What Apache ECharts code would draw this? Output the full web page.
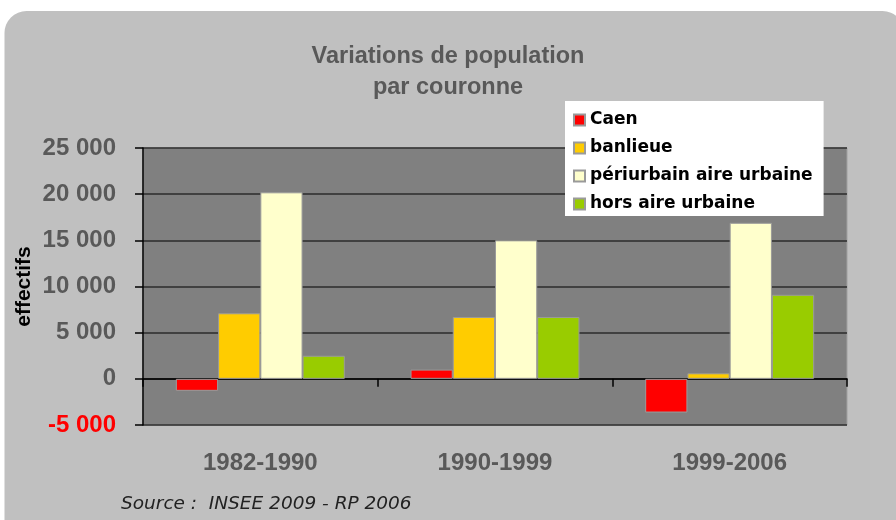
<!DOCTYPE html>
<html>
<head>
<meta charset="utf-8">
<script src="https://cdn.jsdelivr.net/npm/echarts@6/dist/echarts.min.js"></script>
<style>html,body{margin:0;padding:0;background:#fff;}#c{width:896px;height:520px;}</style>
</head>
<body>
<div id="c"></div>
<script>
const categories = ['1982-1990', '1990-1999', '1999-2006'];
const seriesNames = ['Caen', 'banlieue', 'périurbain aire urbaine', 'hors aire urbaine'];
const caen = [-1300, 1000, -3650];
const banlieue = [7100, 6700, 600];
const periurbain = [20200, 15000, 16900];
const horsAire = [2500, 6700, 9100];
const yMin = -5000, yMax = 25000, yInterval = 5000;
const colors = ['#ff0000', '#ffcc00', '#ffffcc', '#99cc00'];
const titleText = 'Variations de population\npar couronne';
const yName = 'effectifs';
const sourceText = 'Source :  INSEE 2009 - RP 2006';

const values = [caen, banlieue, periurbain, horsAire];
function fmt(v) {
  const s = String(Math.abs(v)).replace(/\B(?=(\d{3})+(?!\d))/g, ' ');
  return (v < 0 ? '-' : '') + s;
}
const chart = echarts.init(document.getElementById('c'), null, {renderer: 'canvas'});
chart.setOption({
  backgroundColor: '#ffffff',
  animation: false,
  graphic: [
    {type: 'rect', z: -100, shape: {x: 4.5, y: 11, width: 900, height: 560, r: 22}, style: {fill: '#c0c0c0'}},
    {type: 'text', left: 121, top: 495, style: {text: sourceText, fill: '#222', font: 'italic 18.5px "DejaVu Sans"'}}
  ],
  title: {
    text: titleText, left: 'center', top: 41, padding: 0,
    textStyle: {fontFamily: 'Liberation Sans', fontWeight: 'bold', fontSize: 23.5, color: '#595959', lineHeight: 31}
  },
  legend: {
    orient: 'vertical', left: 565, top: 101,
    backgroundColor: '#ffffff', padding: [9, 11, 2, 8],
    itemWidth: 11, itemHeight: 11, itemGap: 8, icon: 'rect',
    textStyle: {fontFamily: 'DejaVu Sans', fontWeight: 'bold', fontSize: 17, color: '#000', lineHeight: 20},
    data: seriesNames
  },
  grid: {
    left: 143, right: 49, top: 148, bottom: 95, show: true,
    backgroundColor: '#808080', borderColor: '#a0a0a0', borderWidth: 1
  },
  xAxis: {
    type: 'category', data: categories,
    axisLine: {onZero: true, lineStyle: {color: '#000', width: 1.5}},
    axisTick: {show: true, length: 8, lineStyle: {color: '#000', width: 1.5}},
    axisLabel: {margin: 26, fontFamily: 'Liberation Sans', fontWeight: 'bold', fontSize: 24, color: '#595959'},
    splitLine: {show: false}
  },
  yAxis: {
    type: 'value', min: yMin, max: yMax, interval: yInterval,
    name: yName, nameLocation: 'middle', nameRotate: 90, nameGap: 108, nameMoveOverlap: false,
    nameTextStyle: {fontFamily: 'Liberation Sans', fontWeight: 'bold', fontSize: 21, color: '#000'},
    axisLine: {show: true, lineStyle: {color: '#000', width: 1.5}},
    axisTick: {show: true, length: 8, lineStyle: {color: '#000', width: 1.5}},
    axisLabel: {
      margin: 27, fontFamily: 'Liberation Sans', fontWeight: 'bold', fontSize: 24,
      formatter: fmt,
      color: function (v) { return Number(v) < 0 ? '#ff0000' : '#595959'; }
    },
    splitLine: {show: true, lineStyle: {color: '#2b2b2b', width: 1.5}}
  },
  series: seriesNames.map((n, i) => ({
    name: n, type: 'bar', data: values[i],
    barGap: '0%', barCategoryGap: '28%',
    itemStyle: {color: colors[i], borderColor: '#9a9a9a', borderWidth: 1}
  }))
});
</script>
</body>
</html>
